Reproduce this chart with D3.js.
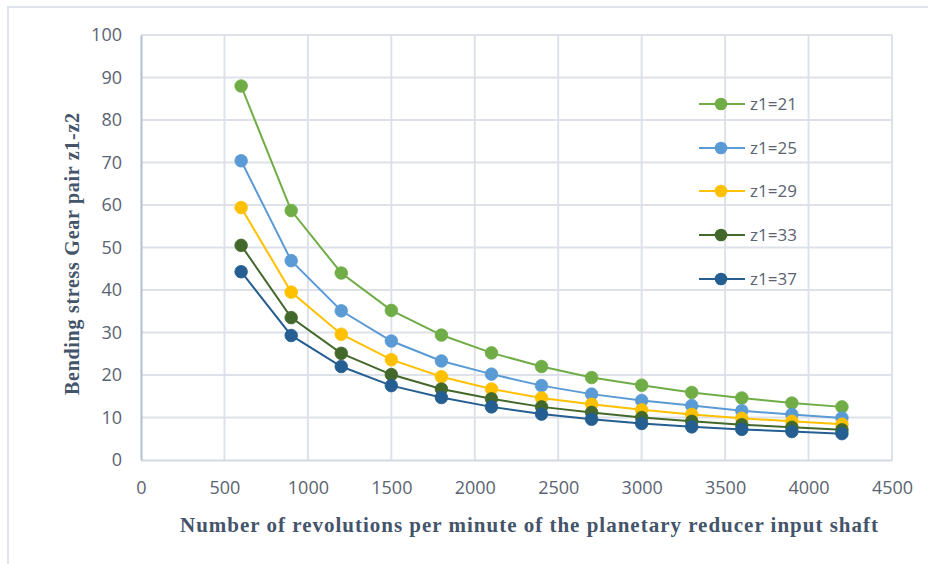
<!DOCTYPE html>
<html><head><meta charset="utf-8">
<script src="https://cdn.jsdelivr.net/npm/d3@7"></script>
<style>body{margin:0;background:#fff;} svg{display:block;}</style>
</head><body>
<svg id="chart" width="928" height="564"></svg>
<script>
const rpm = [600, 900, 1200, 1500, 1800, 2100, 2400, 2700, 3000, 3300, 3600, 3900, 4200];
const seriesNames = ["z1=21", "z1=25", "z1=29", "z1=33", "z1=37"];
const z21 = [88.0, 58.7, 44.0, 35.2, 29.4, 25.2, 22.0, 19.4, 17.6, 15.9, 14.6, 13.4, 12.5];
const z25 = [70.4, 46.9, 35.1, 28.0, 23.3, 20.2, 17.5, 15.5, 14.0, 12.8, 11.6, 10.7, 9.9];
const z29 = [59.4, 39.5, 29.6, 23.6, 19.6, 16.7, 14.6, 13.1, 11.8, 10.7, 9.8, 9.1, 8.4];
const z33 = [50.5, 33.5, 25.1, 20.1, 16.7, 14.4, 12.5, 11.2, 10.0, 9.1, 8.3, 7.7, 7.1];
const z37 = [44.3, 29.3, 22.0, 17.5, 14.7, 12.5, 10.8, 9.6, 8.6, 7.8, 7.2, 6.7, 6.2];
const xTicks = [0, 500, 1000, 1500, 2000, 2500, 3000, 3500, 4000, 4500];
const yTicks = [0, 10, 20, 30, 40, 50, 60, 70, 80, 90, 100];
const colors = ["#70AD47", "#5B9BD5", "#FFC000", "#43682B", "#255E91"];
const allSeries = [z21, z25, z29, z33, z37];

const svg = d3.select("#chart");
// outer frame
svg.append("rect").attr("x", 8).attr("y", 7).attr("width", 940).attr("height", 580)
  .attr("fill", "none").attr("stroke", "#e1e4ea").attr("stroke-width", 2);

const x = d3.scaleLinear().domain([0, 4500]).range([141, 892]);
const y = d3.scaleLinear().domain([0, 100]).range([460, 35]);

const gridColor = "#dde2ea";
// grid
svg.append("g").selectAll("line").data(yTicks.slice(1)).join("line")
  .attr("x1", x(0)).attr("x2", x(4500)).attr("y1", d => y(d)).attr("y2", d => y(d))
  .attr("stroke", gridColor).attr("stroke-width", 2);
svg.append("g").selectAll("line").data(xTicks.slice(1)).join("line")
  .attr("y1", y(0)).attr("y2", y(100)).attr("x1", d => x(d)).attr("x2", d => x(d))
  .attr("stroke", gridColor).attr("stroke-width", 2);

// axes
const xAxis = svg.append("g").attr("transform", `translate(0,${y(0)})`)
  .call(d3.axisBottom(x).tickValues(xTicks).tickSize(0).tickPadding(21).tickFormat(d3.format("d")));
const yAxis = svg.append("g").attr("transform", `translate(${x(0)},0)`)
  .call(d3.axisLeft(y).tickValues(yTicks).tickSize(0).tickPadding(19).tickFormat(d3.format("d")));
xAxis.select(".domain").attr("stroke", "#d3d9e3").attr("stroke-width", 2);
yAxis.select(".domain").attr("stroke", "#b4c0d2").attr("stroke-width", 2);
[xAxis, yAxis].forEach(a => a.selectAll("text")
  .attr("font-family", "'Open Sans', sans-serif").attr("font-size", 18).attr("fill", "#5b6372"));

// series
const line = d3.line().x((d, i) => x(rpm[i])).y(d => y(d));
allSeries.forEach((vals, k) => {
  const g = svg.append("g");
  g.append("path").datum(vals).attr("d", line).attr("fill", "none")
    .attr("stroke", colors[k]).attr("stroke-width", 2);
  g.selectAll("circle").data(vals).join("circle")
    .attr("cx", (d, i) => x(rpm[i])).attr("cy", d => y(d)).attr("r", 6.3)
    .attr("fill", colors[k]).attr("stroke", colors[k]).attr("stroke-width", 0.8);
});

// legend
const legY = [104, 148, 191, 235, 279];
seriesNames.forEach((name, k) => {
  const g = svg.append("g").attr("transform", `translate(0,${legY[k]})`);
  g.append("line").attr("x1", 699).attr("x2", 745).attr("y1", 0).attr("y2", 0)
    .attr("stroke", colors[k]).attr("stroke-width", 2);
  g.append("circle").attr("cx", 721).attr("cy", 0).attr("r", 6.3).attr("fill", colors[k]);
  g.append("text").attr("x", 750).attr("y", 0).attr("dy", "0.35em").text(name)
    .attr("font-family", "'Open Sans', sans-serif").attr("font-size", 17).attr("fill", "#5b6372");
});

// titles
svg.append("text").attr("x", 180).attr("y", 532)
  .attr("font-family", "'Liberation Serif', serif").attr("font-weight", "bold")
  .attr("font-size", 21).attr("fill", "#44546A")
  .attr("textLength", 698).attr("lengthAdjust", "spacing")
  .text("Number of revolutions per minute of the planetary reducer input shaft");
svg.append("text").attr("transform", "translate(79,395) rotate(-90)")
  .attr("font-family", "'Liberation Serif', serif").attr("font-weight", "bold")
  .attr("font-size", 20).attr("fill", "#44546A")
  .attr("textLength", 282).attr("lengthAdjust", "spacing")
  .text("Bending stress Gear pair z1-z2");
</script>
</body></html>
